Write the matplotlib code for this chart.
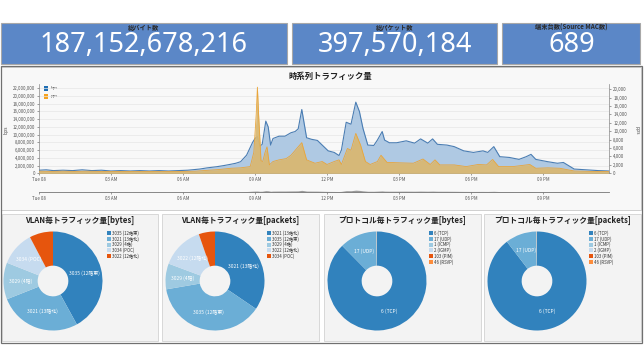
import matplotlib
matplotlib.use('Agg')
import matplotlib.pyplot as plt
from matplotlib.patches import Rectangle
import numpy as np

plt.rcParams['font.family'] = ['Noto Sans CJK JP', 'DejaVu Sans']

# ---------------- data ----------------
box_titles = ['総バイト数', '総パケット数', '端末台数(Source MAC数)']
box_values = ['187,152,678,216', '397,570,184', '689']

hours_bps = [
    0.0, 0.3, 0.6, 1.0, 1.4, 1.8, 2.2, 2.6, 3.0, 3.4,
    3.8, 4.2, 4.6, 5.0, 5.4, 5.8, 6.2, 6.7, 7.0, 7.4,
    7.7, 7.96, 8.2, 8.4, 8.65, 8.9, 9.0, 9.1, 9.2, 9.3,
    9.45, 9.55, 9.65, 9.75, 10.0, 10.25, 10.5, 10.67, 10.8, 10.95,
    11.15, 11.35, 11.6, 11.8, 12.05, 12.3, 12.5, 12.6, 12.8, 13.0,
    13.2, 13.35, 13.5, 13.7, 13.95, 14.1, 14.3, 14.4, 14.6, 14.9,
    15.3, 15.65, 15.9, 16.2, 16.4, 16.6, 17.0, 17.3, 17.7, 18.1,
    18.5, 18.7, 18.95, 19.2, 19.6, 20.0, 20.3, 20.5, 20.7, 21.2,
    21.6, 21.85, 22.3, 22.8, 23.3, 23.75]
bps_millions = [
    0.8, 0.9, 0.7, 0.8, 0.7, 0.9, 0.7, 0.8, 0.6, 0.7,
    0.6, 0.7, 0.6, 0.7, 0.6, 0.7, 0.8, 1.1, 1.4, 1.7,
    2.0, 2.3, 2.6, 3.0, 4.7, 8.0, 9.0, 9.5, 7.0, 7.5,
    13.5, 12.0, 7.3, 9.0, 9.6, 9.6, 10.5, 10.8, 11.5, 16.5,
    9.2, 8.8, 8.5, 7.3, 5.8, 5.4, 4.6, 6.0, 13.2, 12.7,
    18.4, 16.0, 11.6, 7.3, 7.2, 8.6, 10.8, 8.6, 7.9, 7.9,
    8.4, 7.8, 8.9, 7.8, 8.9, 7.5, 7.3, 6.9, 5.8, 5.4,
    5.8, 5.4, 6.9, 4.3, 4.1, 3.6, 4.3, 4.9, 3.6, 3.0,
    2.6, 2.8, 1.1, 0.9, 0.7, 0.6]

hours_pps = [
    0.0, 0.5, 1.0, 1.5, 2.0, 2.5, 3.0, 3.5, 4.0, 4.5,
    5.0, 5.5, 6.0, 6.5, 7.0, 7.5, 8.0, 8.4, 8.8, 8.95,
    9.05, 9.1, 9.15, 9.25, 9.32, 9.42, 9.5, 9.6, 9.75, 10.0,
    10.3, 10.5, 10.8, 10.95, 11.15, 11.5, 11.8, 12.0, 12.3, 12.5,
    12.6, 12.85, 13.0, 13.2, 13.4, 13.6, 13.8, 14.1, 14.25, 14.5,
    15.0, 15.6, 16.0, 16.3, 16.5, 16.7, 17.3, 17.8, 18.3, 18.65,
    18.9, 19.15, 19.75, 20.45, 20.7, 21.2, 21.7, 22.3, 23.0, 23.75]
pps_thousands = [
    0.5, 0.45, 0.5, 0.45, 0.5, 0.45, 0.4, 0.45, 0.4, 0.45,
    0.4, 0.45, 0.45, 0.5, 0.7, 0.9, 1.2, 1.3, 1.6, 5.0,
    14.0, 20.5, 14.0, 3.0, 2.8, 5.0, 6.3, 2.0, 2.8, 3.2,
    3.5, 4.3, 6.3, 7.3, 3.2, 2.4, 2.8, 2.1, 2.8, 3.2,
    2.1, 5.9, 5.5, 9.5, 6.7, 2.8, 2.1, 2.8, 4.3, 2.6,
    2.5, 2.4, 3.4, 2.1, 3.2, 2.0, 2.0, 1.6, 2.1, 2.0,
    3.3, 1.6, 1.6, 2.1, 1.2, 1.3, 1.2, 0.55, 0.45, 0.4]

time_ticks = [0, 3, 6, 9, 12, 15, 18, 21]
time_labels = ['Tue 08', '03 AM', '06 AM', '09 AM', '12 PM', '03 PM', '06 PM', '09 PM']
series_names = ['bps', 'pps']

vlan_bytes_labels = ['3035 (12階東)', '3021 (13階北)', '3029 (4階)', '3034 (POC)', '3022 (12階北)']
vlan_bytes_values = [42.0, 27.0, 12.0, 11.3, 7.7]
vlan_pkts_labels = ['3021 (13階北)', '3035 (12階東)', '3029 (4階)', '3022 (12階北)', '3034 (POC)']
vlan_pkts_values = [34.5, 37.8, 8.4, 14.0, 5.3]
proto_labels = ['6 (TCP)', '17 (UDP)', '1 (ICMP)', '2 (IGMP)', '103 (PIM)', '46 (RSVP)']
proto_bytes_values = [87.6, 12.1, 0.2, 0.05, 0.03, 0.02]
proto_pkts_values = [89.6, 10.1, 0.2, 0.05, 0.03, 0.02]

pie_titles = ['VLAN毎トラフィック量[bytes]', 'VLAN毎トラフィック量[packets]',
              'プロトコル毎トラフィック量[bytes]', 'プロトコル毎トラフィック量[packets]']

# ---------------- layout ----------------
W, H = 644, 362
fig = plt.figure(figsize=(W / 100, H / 100), dpi=100)
fig.patch.set_facecolor('white')


def pax(x0, y0, x1, y1):
    return fig.add_axes([x0 / W, 1 - y1 / H, (x1 - x0) / W, (y1 - y0) / H])


bg = pax(0, 0, W, H)
bg.set_xlim(0, W)
bg.set_ylim(H, 0)
bg.axis('off')
bg.set_zorder(0)

# top KPI boxes
boxes = [(0, 288), (292, 498), (502, 641)]
for (x0, x1), t, v in zip(boxes, box_titles, box_values):
    bg.add_patch(Rectangle((x0 + 0.5, 23), x1 - x0 - 1, 41, facecolor='#5b87c7',
                           edgecolor='#a8a8a8', lw=0.8))
    cx = (x0 + x1) / 2
    bg.text(cx, 27.5, t, ha='center', va='center', fontsize=4.5, fontweight='bold', color='#2a2a2a')
    bg.text(cx, 45, v, ha='center', va='center', fontsize=19.5, color='white',
            family=['Noto Sans', 'DejaVu Sans'])

# panels
bg.add_patch(Rectangle((1.5, 66.5), 639.5, 143, facecolor='#f8f8f8', edgecolor='#c8c8c8', lw=0.6))
pie_panels = [(2, 158), (162, 319), (324, 481), (484, 641)]
for x0, x1 in pie_panels:
    bg.add_patch(Rectangle((x0, 214), x1 - x0, 127, facecolor='#f3f3f3', edgecolor='#d2d2d2', lw=0.6))
bg.add_patch(Rectangle((1, 66), 641, 277, facecolor='none', edgecolor='#707070', lw=0.9))

# ---------------- time series ----------------
blue_fill, blue_line = '#afc9e3', '#4a7db3'
orange_fill, orange_line = '#d9b872', '#e9a53a'

bps = [v * 1e6 for v in bps_millions]
pps = [v * 1e3 for v in pps_thousands]

ax = pax(39, 84, 609, 173.3)
ax.set_facecolor('none')
ax.set_zorder(2)
ax.fill_between(hours_bps, bps, color=blue_fill, lw=0, zorder=2)
ax.plot(hours_bps, bps, color=blue_line, lw=0.8, zorder=3)
ax.set_xlim(0, 23.75)
ax.set_ylim(0, 23.1e6)
lt = np.arange(0, 22e6 + 1, 2e6)
ax.set_yticks(lt)
ax.set_yticklabels([f'{v:,.0f}' for v in lt])
ax.set_xticks(time_ticks)
ax.set_xticklabels(time_labels)
ax.yaxis.grid(True, color='#e6e6e6', lw=0.5)
ax.set_axisbelow(True)
for s in ['top', 'right']:
    ax.spines[s].set_visible(False)
for s in ['left', 'bottom']:
    ax.spines[s].set_color('#888888')
    ax.spines[s].set_linewidth(0.5)
ax.tick_params(labelsize=3.2, colors='#555555', length=1.5, width=0.4, pad=1.5)

ax2 = ax.twinx()
ax2.fill_between(hours_pps, pps, color=orange_fill, lw=0, alpha=0.95, zorder=2)
ax2.plot(hours_pps, pps, color=orange_line, lw=0.6, zorder=3)
ax2.set_ylim(0, 21250)
rt = np.arange(0, 20001, 2000)
ax2.set_yticks(rt)
ax2.set_yticklabels([f'{v:,.0f}' for v in rt])
for s in ['top', 'left', 'bottom']:
    ax2.spines[s].set_visible(False)
ax2.spines['right'].set_color('#888888')
ax2.spines['right'].set_linewidth(0.5)
ax2.tick_params(labelsize=3.2, colors='#555555', length=1.5, width=0.4, pad=1.5)

bg.text(330, 76, '時系列トラフィック量', ha='center', va='center', fontsize=6, fontweight='bold', color='#222222')
bg.text(6, 130, series_names[0], ha='center', va='center', rotation=90, fontsize=3.5, color='#444444')
bg.text(637, 130, series_names[1], ha='center', va='center', rotation=270, fontsize=3.5, color='#444444')
for i, (nm, c) in enumerate(zip(series_names, ['#1f6fb4', '#f5a21e'])):
    bg.add_patch(Rectangle((44, 86 + i * 8), 4.5, 4.5, facecolor=c, edgecolor='none'))
    bg.text(50.5, 88.3 + i * 8, nm, ha='left', va='center', fontsize=3, color='#444444')

# navigator
nav = pax(39, 186, 609, 192)
nav.set_facecolor('none')
nav.fill_between(hours_bps, bps, color='#9a9a9a', lw=0)
nav.set_xlim(0, 23.75)
nav.set_ylim(0, 60e6)
nav.set_yticks([])
nav.set_xticks(time_ticks)
nav.set_xticklabels(time_labels)
for s in ['top', 'left', 'right']:
    nav.spines[s].set_visible(False)
nav.spines['bottom'].set_color('#777777')
nav.spines['bottom'].set_linewidth(0.6)
nav.tick_params(labelsize=3.2, colors='#555555', length=1.5, width=0.4, pad=1.2)

# ---------------- pies ----------------
blues5 = ['#3182bd', '#6baed6', '#9ecae1', '#c6dbef', '#e6550d']
vlan_bytes_colors = blues5
vlan_pkts_colors = blues5
proto_colors = ['#3182bd', '#6baed6', '#9ecae1', '#c6dbef', '#e6550d', '#fd8d3c']

pie_specs = [
    (53, 281, vlan_bytes_values, vlan_bytes_labels, vlan_bytes_colors),
    (215, 281, vlan_pkts_values, vlan_pkts_labels, vlan_pkts_colors),
    (377, 281, proto_bytes_values, proto_labels, proto_colors),
    (537, 281, proto_pkts_values, proto_labels, proto_colors),
]
R = 49.5
for (px0, px1), title, (cx, cy, vals, labs, cols) in zip(pie_panels, pie_titles, pie_specs):
    bg.text((px0 + px1) / 2, 220.5, title, ha='center', va='center', fontsize=5.6,
            fontweight='bold', color='#222222')
    pa = pax(cx - R, cy - R, cx + R, cy + R)
    pa.set_zorder(2)
    wedges, _ = pa.pie(vals, colors=cols, startangle=90, counterclock=False,
                       wedgeprops=dict(width=0.69, linewidth=0))
    pa.set_xlim(-1, 1)
    pa.set_ylim(-1, 1)
    total = sum(vals)
    for w, lab, v in zip(wedges, labs, vals):
        if v / total > 0.08:
            th = np.deg2rad((w.theta1 + w.theta2) / 2)
            pa.text(0.655 * np.cos(th), 0.655 * np.sin(th), lab, ha='center', va='center',
                    fontsize=3.5, color='white')
    for i, (lab, c) in enumerate(zip(labs, cols)):
        y = 231 + i * 5.8
        bg.add_patch(Rectangle((px0 + 105, y), 4, 4, facecolor=c, edgecolor='none'))
        bg.text(px0 + 110.5, y + 2.1, lab, ha='left', va='center', fontsize=3.1, color='#333333')

fig.savefig('out.png', dpi=100, facecolor='white')
